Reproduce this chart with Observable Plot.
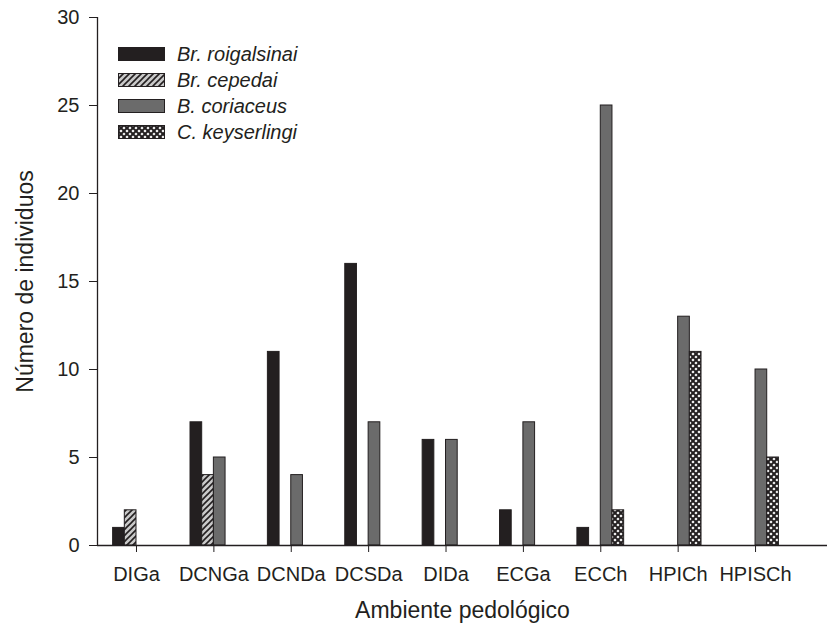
<!DOCTYPE html>
<html>
<head>
<meta charset="utf-8">
<script src="https://cdn.jsdelivr.net/npm/d3@7"></script>
<script src="https://cdn.jsdelivr.net/npm/@observablehq/plot@0.6"></script>
<style>
  body { margin: 0; background: #fff; }
  #wrap { position: relative; width: 827px; height: 635px; }
  .legend { position: absolute; left: 118px; top: 41px; font-family: "Liberation Sans", Arial, sans-serif; font-style: italic; font-size: 20px; color: #231f20; }
  .row { display: flex; align-items: center; height: 26px; }
  .row svg { margin-right: 12px; display: block; }
</style>
</head>
<body>
<svg width="0" height="0" style="position:absolute">
  <defs>
    <pattern id="hatch" patternUnits="userSpaceOnUse" width="6" height="6">
      <rect width="6" height="6" fill="#c9c9c9"></rect>
      <path d="M-1,1 l2,-2 M0,6 l6,-6 M5,7 l2,-2" stroke="#231f20" stroke-width="1.6"></path>
    </pattern>
    <pattern id="checks" patternUnits="userSpaceOnUse" width="6" height="6">
      <rect width="6" height="6" fill="#ffffff"></rect>
      <path d="M0,0 L6,6 M6,0 L0,6" stroke="#231f20" stroke-width="2"></path>
    </pattern>
  </defs>
</svg>
<div id="wrap"></div>
<script>
const categories = ["DIGa", "DCNGa", "DCNDa", "DCSDa", "DIDa", "ECGa", "ECCh", "HPICh", "HPISCh"];
const species = ["Br. roigalsinai", "Br. cepedai", "B. coriaceus", "C. keyserlingi"];
const roigalsinai = [1, 7, 11, 16, 6, 2, 1, 0, 0];
const cepedai     = [2, 4, 0, 0, 0, 0, 0, 0, 0];
const coriaceus   = [0, 5, 4, 7, 6, 7, 25, 13, 10];
const keyserlingi = [0, 0, 0, 0, 0, 0, 2, 11, 5];
const yTicks = [0, 5, 10, 15, 20, 25, 30];
const fills = ["#231f20", "url(#hatch)", "#6b6b6b", "url(#checks)"];

const series = [roigalsinai, cepedai, coriaceus, keyserlingi];
const rows = [];
series.forEach((vals, s) => vals.forEach((v, i) => {
  if (v > 0) rows.push({i, s, species: species[s], value: v});
}));

const bw = 0.151;           // bar width in category units
const xMin = -0.504, xMax = 8.93;

const chart = Plot.plot({
  width: 827,
  height: 635,
  marginLeft: 97,
  marginRight: 0,
  marginTop: 17,
  marginBottom: 90,
  style: {fontFamily: "Liberation Sans, Arial, sans-serif", fontSize: "20px", color: "#231f20", background: "#fff"},
  x: {type: "linear", domain: [xMin, xMax], ticks: d3.range(categories.length), tickFormat: i => categories[i], tickSize: 7, tickPadding: 14, label: null},
  y: {domain: [0, 30], ticks: yTicks, tickSize: 8, tickPadding: 10, label: null},
  color: {type: "ordinal", domain: species, range: fills},
  marks: [
    Plot.rectY(rows, {
      x1: d => d.i + (d.s - 2) * bw,
      x2: d => d.i + (d.s - 1) * bw,
      y: "value",
      fill: "species",
      stroke: "#231f20",
      strokeWidth: 1
    }),
    Plot.ruleY([0], {stroke: "#231f20", strokeWidth: 1.3}),
    Plot.ruleX([xMin], {stroke: "#231f20", strokeWidth: 1.3}),
    Plot.text(["Ambiente pedológico"], {text: d => d, frameAnchor: "bottom", dy: 72.6, fontSize: 23}),
    Plot.text(["Número de individuos"], {text: d => d, frameAnchor: "left", textAnchor: "middle", rotate: -90, dx: -71.4, fontSize: 23})
  ]
});
const wrap = document.getElementById("wrap");
wrap.appendChild(chart);

const legend = document.createElement("div");
legend.className = "legend";
species.forEach((name, s) => {
  const row = document.createElement("div");
  row.className = "row";
  row.innerHTML = `<svg width="47" height="14"><rect x="0.5" y="0.5" width="46" height="13" fill="${fills[s]}" stroke="#231f20" stroke-width="1"></rect></svg><span>${name}</span>`;
  legend.appendChild(row);
});
wrap.appendChild(legend);
</script>
</body>
</html>
